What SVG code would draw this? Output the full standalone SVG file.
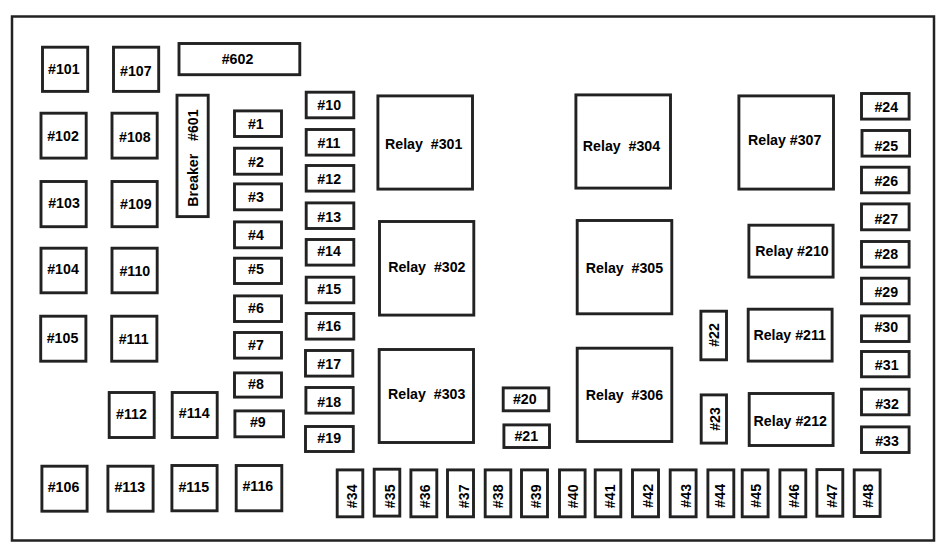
<svg xmlns="http://www.w3.org/2000/svg" width="948" height="555" viewBox="0 0 948 555">
<style>
rect{fill:#fff;stroke:#222;stroke-width:2.9}
text{font-family:"Liberation Sans",Arial,sans-serif;font-weight:700;font-size:14.2px;fill:#000;text-anchor:middle;white-space:pre}
</style>
<rect width="948" height="555" style="fill:#fff;stroke:none"/>
<rect id="frame" x="12" y="16.5" width="922" height="524" style="fill:none;stroke-width:2.5"/>
<g id="f101"><rect x="42.5" y="47.2" width="45.2" height="44.2"/><text x="63.8" y="74">#101</text></g>
<g id="f107"><rect x="113.5" y="47.2" width="45.2" height="44.2"/><text x="135.8" y="75.7">#107</text></g>
<g id="f602"><rect x="179" y="43.5" width="120.8" height="31.2"/><text x="237.5" y="64.3">#602</text></g>
<g id="f601"><rect x="177" y="95.2" width="31.2" height="121.4"/><text transform="translate(198.3 158) rotate(-90)" style="word-spacing:2.5px">Breaker  #601</text></g>
<g id="f102"><rect x="41" y="113.2" width="45.2" height="44.9"/><text x="63" y="141">#102</text></g>
<g id="f108"><rect x="112" y="113.2" width="45.2" height="44.9"/><text x="134.8" y="142.3">#108</text></g>
<g id="f103"><rect x="41" y="181.5" width="45.2" height="45.2"/><text x="64" y="207.7">#103</text></g>
<g id="f109"><rect x="112" y="181.5" width="45.2" height="45.2"/><text x="135.8" y="209">#109</text></g>
<g id="f104"><rect x="41" y="248.2" width="45.2" height="44.6"/><text x="63" y="274.3">#104</text></g>
<g id="f110"><rect x="112" y="248.2" width="45.2" height="44.6"/><text x="134.8" y="275.7">#110</text></g>
<g id="f105"><rect x="40.7" y="316.2" width="45.2" height="45"/><text x="62.5" y="343.3">#105</text></g>
<g id="f111"><rect x="111.7" y="316.2" width="45.2" height="45"/><text x="133.7" y="344.3">#111</text></g>
<g id="f112"><rect x="109.2" y="392.5" width="45" height="45"/><text x="131.5" y="419">#112</text></g>
<g id="f114"><rect x="172.2" y="392.5" width="45" height="45"/><text x="194.2" y="418.3">#114</text></g>
<g id="f106"><rect x="41.9" y="466.2" width="45.2" height="45"/><text x="63.5" y="491.7">#106</text></g>
<g id="f113"><rect x="107.9" y="466.2" width="45.2" height="45"/><text x="129.8" y="491.7">#113</text></g>
<g id="f115"><rect x="171.9" y="465.5" width="45.2" height="45.3"/><text x="193.8" y="491.7">#115</text></g>
<g id="f116"><rect x="236.2" y="465.5" width="45.6" height="45.3"/><text x="257.8" y="490.7">#116</text></g>
<g id="f1"><rect x="234.5" y="110.9" width="47" height="25.6"/><text x="255.8" y="128.7">#1</text></g>
<g id="f2"><rect x="234.5" y="148.2" width="47" height="26"/><text x="256" y="166.7">#2</text></g>
<g id="f3"><rect x="234.5" y="183.9" width="47" height="25.9"/><text x="256" y="202">#3</text></g>
<g id="f4"><rect x="234.5" y="221.9" width="47" height="25.9"/><text x="256" y="240.3">#4</text></g>
<g id="f5"><rect x="234.5" y="258.2" width="47" height="25.3"/><text x="256" y="274.3">#5</text></g>
<g id="f6"><rect x="234.5" y="295.9" width="47" height="25.6"/><text x="256" y="312.7">#6</text></g>
<g id="f7"><rect x="234.5" y="332.5" width="47" height="25.6"/><text x="256" y="349.7">#7</text></g>
<g id="f8"><rect x="234.5" y="372.9" width="47" height="24.2"/><text x="256" y="388.7">#8</text></g>
<g id="f9"><rect x="234.9" y="410.9" width="48.6" height="25.9"/><text x="257.8" y="427">#9</text></g>
<g id="f10"><rect x="306.2" y="92.2" width="47.6" height="25.6"/><text x="329.2" y="110">#10</text></g>
<g id="f11"><rect x="306.2" y="129.5" width="47.6" height="25.6"/><text x="329" y="148">#11</text></g>
<g id="f12"><rect x="306.2" y="165.5" width="47.6" height="25.6"/><text x="329.2" y="183.7">#12</text></g>
<g id="f13"><rect x="306.2" y="202.9" width="47.6" height="25.6"/><text x="329.2" y="221.7">#13</text></g>
<g id="f14"><rect x="306.2" y="239.5" width="47.6" height="25.6"/><text x="329" y="256">#14</text></g>
<g id="f15"><rect x="306.2" y="277.2" width="47.6" height="25.6"/><text x="329.2" y="294">#15</text></g>
<g id="f16"><rect x="306.2" y="313.5" width="47.6" height="25.6"/><text x="329.2" y="331">#16</text></g>
<g id="f17"><rect x="305.5" y="350.5" width="47.3" height="25.6"/><text x="329.2" y="369">#17</text></g>
<g id="f18"><rect x="305.9" y="387.5" width="47.3" height="25.6"/><text x="329.2" y="407">#18</text></g>
<g id="f19"><rect x="305.5" y="426.5" width="47.8" height="25"/><text x="329.2" y="442.7">#19</text></g>
<g id="r301"><rect x="377.9" y="95.9" width="94.6" height="93.2"/><text x="423.7" y="149.3">Relay  #301</text></g>
<g id="r302"><rect x="379.5" y="221.5" width="94.3" height="93.6"/><text x="426.8" y="272">Relay  #302</text></g>
<g id="r303"><rect x="379.2" y="349.5" width="94.3" height="93"/><text x="426.7" y="398.7">Relay  #303</text></g>
<g id="r304"><rect x="575.9" y="94.9" width="94.6" height="93.2"/><text x="621.5" y="150.7">Relay  #304</text></g>
<g id="r305"><rect x="577.2" y="220.5" width="94.6" height="93.3"/><text x="624.5" y="273.3">Relay  #305</text></g>
<g id="r306"><rect x="577.2" y="348.2" width="94.6" height="93.3"/><text x="624.5" y="400">Relay  #306</text></g>
<g id="r307"><rect x="738.9" y="95.9" width="94.6" height="93.2"/><text x="784.7" y="145.3">Relay #307</text></g>
<g id="r210"><rect x="748.9" y="225.2" width="84.2" height="51.9"/><text x="792" y="256">Relay #210</text></g>
<g id="r211"><rect x="748.2" y="309.2" width="83.9" height="51.9"/><text x="789.7" y="340">Relay #211</text></g>
<g id="r212"><rect x="749.2" y="393.5" width="83.9" height="52"/><text x="790.3" y="425.7">Relay #212</text></g>
<g id="f20"><rect x="503.2" y="387.9" width="45.6" height="22.9"/><text x="524.8" y="404">#20</text></g>
<g id="f21"><rect x="503.9" y="424.9" width="45.6" height="22.6"/><text x="526.3" y="441.3">#21</text></g>
<g id="f22"><rect x="700.9" y="311.2" width="25.6" height="48.6"/><text transform="translate(718.7 335) rotate(-90)">#22</text></g>
<g id="f23"><rect x="701.2" y="394.9" width="25.3" height="48.2"/><text transform="translate(720 419) rotate(-90)">#23</text></g>
<g id="f24"><rect x="861.5" y="93.5" width="47.6" height="25.6"/><text x="886.3" y="112.3">#24</text></g>
<g id="f25"><rect x="862" y="130.5" width="47.6" height="25.6"/><text x="886.3" y="150.7">#25</text></g>
<g id="f26"><rect x="861.5" y="167.2" width="47.6" height="25.6"/><text x="886.3" y="186">#26</text></g>
<g id="f27"><rect x="861.5" y="203.9" width="47.6" height="25.9"/><text x="886.3" y="224.3">#27</text></g>
<g id="f28"><rect x="861.5" y="241.5" width="47.6" height="25.6"/><text x="886.3" y="258.7">#28</text></g>
<g id="f29"><rect x="861.5" y="278.2" width="47.6" height="25.6"/><text x="886.3" y="296.7">#29</text></g>
<g id="f30"><rect x="861.5" y="315.9" width="47.6" height="25.6"/><text x="886.3" y="332.3">#30</text></g>
<g id="f31"><rect x="861.5" y="351.5" width="47.6" height="25.3"/><text x="886.7" y="370">#31</text></g>
<g id="f32"><rect x="861.5" y="389.2" width="47.6" height="25.6"/><text x="887" y="408.7">#32</text></g>
<g id="f33"><rect x="861.5" y="426.9" width="47.6" height="25.6"/><text x="887" y="445.7">#33</text></g>
<g id="f34"><rect x="337.2" y="469.9" width="25.6" height="46.9"/><text transform="translate(356.7 496.3) rotate(-90)">#34</text></g>
<g id="f35"><rect x="374.2" y="469.2" width="25.6" height="46.9"/><text transform="translate(395 496.3) rotate(-90)">#35</text></g>
<g id="f36"><rect x="410.9" y="469.9" width="25.9" height="46.9"/><text transform="translate(430 496.3) rotate(-90)">#36</text></g>
<g id="f37"><rect x="447.5" y="469.9" width="26" height="46.9"/><text transform="translate(469 496.3) rotate(-90)">#37</text></g>
<g id="f38"><rect x="485.2" y="469.9" width="25.6" height="46.9"/><text transform="translate(502.7 496.3) rotate(-90)">#38</text></g>
<g id="f39"><rect x="521.5" y="469.9" width="26" height="46.9"/><text transform="translate(541 496.3) rotate(-90)">#39</text></g>
<g id="f40"><rect x="559.5" y="469.9" width="25.6" height="46.9"/><text transform="translate(578 496.3) rotate(-90)">#40</text></g>
<g id="f41"><rect x="595.2" y="469.9" width="25.6" height="46.9"/><text transform="translate(615 496.3) rotate(-90)">#41</text></g>
<g id="f42"><rect x="632.5" y="469.9" width="26" height="46.9"/><text transform="translate(653.3 495.8) rotate(-90)">#42</text></g>
<g id="f43"><rect x="670.2" y="469.9" width="25.9" height="46.9"/><text transform="translate(690.7 495.8) rotate(-90)">#43</text></g>
<g id="f44"><rect x="707.9" y="469.9" width="25.9" height="46.9"/><text transform="translate(725.3 495.8) rotate(-90)">#44</text></g>
<g id="f45"><rect x="742.2" y="469.9" width="25.9" height="46.9"/><text transform="translate(761 495.8) rotate(-90)">#45</text></g>
<g id="f46"><rect x="779.9" y="469.9" width="25.9" height="46.9"/><text transform="translate(799 495.8) rotate(-90)">#46</text></g>
<g id="f47"><rect x="816.9" y="469.6" width="25.9" height="46.6"/><text transform="translate(837.3 495.8) rotate(-90)">#47</text></g>
<g id="f48"><rect x="854.2" y="469.9" width="25.9" height="46.6"/><text transform="translate(873 495.8) rotate(-90)">#48</text></g>
</svg>
